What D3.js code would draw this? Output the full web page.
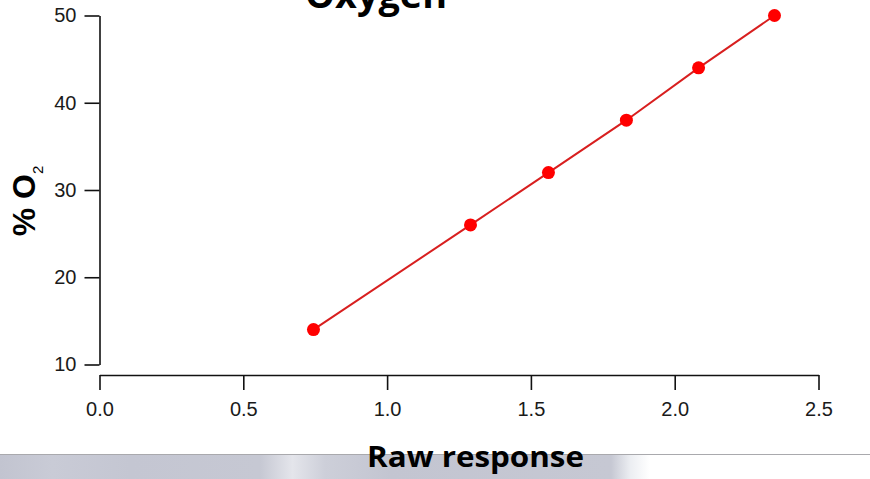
<!DOCTYPE html>
<html>
<head>
<meta charset="utf-8">
<script src="https://cdn.jsdelivr.net/npm/d3@7"></script>
<style>
  html, body { margin: 0; padding: 0; background: #fff; }
  svg { display: block; }
</style>
</head>
<body>
<svg id="chart" width="870" height="479"></svg>
<script>
// ---- data ----
const rawResponse = [0.744, 1.29, 1.561, 1.832, 2.083, 2.347];
const oxygenPct   = [14, 26, 32, 38, 44, 50];
const xTickValues = [0, 0.5, 1.0, 1.5, 2.0, 2.5];
const yTickValues = [10, 20, 30, 40, 50];
const titleText = "Oxygen";
const xLabelText = "Raw response";

const points = rawResponse.map((v, i) => ({ x: v, y: oxygenPct[i] }));

const svg = d3.select("#chart");

// background band of the slide
const defs = svg.append("defs");
const grad = defs.append("linearGradient").attr("id", "band").attr("x1", "0").attr("x2", "1").attr("y1", "0").attr("y2", "0");
[["0%", "#c2c4d0"], ["8%", "#c9cbd6"], ["20%", "#c4c6d2"], ["40%", "#c6c8d3"], ["45%", "#e4e5eb"], ["50%", "#cdcfd9"], ["60%", "#c3c5d1"], ["94%", "#c6c8d3"], ["97%", "#eceef2"], ["100%", "#ffffff"]]
  .forEach(([o, c]) => grad.append("stop").attr("offset", o).attr("stop-color", c));
svg.append("rect").attr("x", 0).attr("y", 455).attr("width", 650).attr("height", 24).attr("fill", "url(#band)");
svg.append("line").attr("x1", 0).attr("x2", 870).attr("y1", 454.5).attr("y2", 454.5).attr("stroke", "#a9a9ad").attr("stroke-width", 1);

// scales
const x = d3.scaleLinear().domain([0, 2.5]).range([99.5, 818.5]);
const y = d3.scaleLinear().domain([10, 50]).range([364.5, 15.5]);

// y axis
const gy = svg.append("g")
  .attr("transform", "translate(99.5,0)")
  .call(d3.axisLeft(y).tickValues(yTickValues).tickSize(15).tickSizeOuter(0).tickPadding(8).tickFormat(d3.format("d")));
gy.selectAll("path, line").attr("stroke", "#111").attr("stroke-width", 1.6);
gy.selectAll("text").attr("font-family", "Liberation Sans, Arial, sans-serif").attr("font-size", 20).attr("fill", "#1a1a1a");

// x axis
const gx = svg.append("g")
  .attr("transform", "translate(0,375)")
  .call(d3.axisBottom(x).tickValues(xTickValues).tickSize(15).tickSizeOuter(0).tickPadding(12).tickFormat(d3.format(".1f")));
gx.selectAll("path, line").attr("stroke", "#111").attr("stroke-width", 1.6);
gx.selectAll("text").attr("font-family", "Liberation Sans, Arial, sans-serif").attr("font-size", 20).attr("fill", "#1a1a1a");

// line + points
const line = d3.line().x(d => x(d.x)).y(d => y(d.y));
svg.append("path").datum(points).attr("d", line)
  .attr("fill", "none").attr("stroke", "#d81f1f").attr("stroke-width", 2);
svg.selectAll("circle.pt").data(points).join("circle").attr("class", "pt")
  .attr("cx", d => x(d.x)).attr("cy", d => y(d.y)).attr("r", 6.5)
  .attr("fill", "#ff0000");

// title (cut off at the top, as in the reference)
svg.append("text").attr("x", 376).attr("y", 8).attr("text-anchor", "middle")
  .attr("font-family", "Open Sans, sans-serif").attr("font-weight", "bold").attr("font-size", 38)
  .attr("textLength", 142).attr("lengthAdjust", "spacingAndGlyphs")
  .attr("fill", "#000").text(titleText);

// x label
svg.append("text").attr("x", 475.5).attr("y", 467).attr("text-anchor", "middle")
  .attr("font-family", "Open Sans, sans-serif").attr("font-weight", "bold").attr("font-size", 29)
  .attr("textLength", 217).attr("lengthAdjust", "spacingAndGlyphs")
  .attr("fill", "#000").text(xLabelText);

// y label
const yl = svg.append("text").attr("transform", "translate(35,201) rotate(-90)").attr("text-anchor", "middle")
  .attr("font-family", "Liberation Sans, Arial, sans-serif").attr("fill", "#000");
yl.append("tspan").attr("font-weight", "bold").attr("font-size", 32).text("% O");
yl.append("tspan").attr("font-size", 15).attr("dy", 8).text("2");
</script>
</body>
</html>
